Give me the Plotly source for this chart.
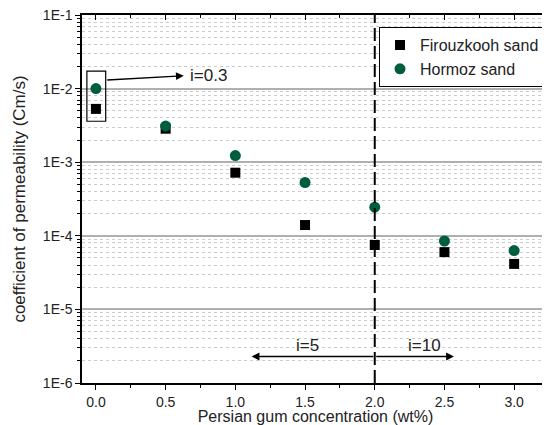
import plotly.graph_objects as go

# ---- data ----
conc = [0.0, 0.5, 1.0, 1.5, 2.0, 2.5, 3.0]
firouzkooh = [5.3e-3, 2.85e-3, 7.2e-4, 1.4e-4, 7.5e-5, 6.0e-5, 4.15e-5]
hormoz = [1.0e-2, 3.1e-3, 1.23e-3, 5.3e-4, 2.45e-4, 8.5e-5, 6.3e-5]

x_ticks = [0.0, 0.5, 1.0, 1.5, 2.0, 2.5, 3.0]
x_tick_labels = ["0.0", "0.5", "1.0", "1.5", "2.0", "2.5", "3.0"]
y_ticks = [1e-6, 1e-5, 1e-4, 1e-3, 1e-2, 1e-1]
y_tick_labels = ["1E-6", "1E-5", "1E-4", "1E-3", "1E-2", "1E-1"]
y_minor = [m * d for d in [1e-6, 1e-5, 1e-4, 1e-3, 1e-2] for m in range(2, 10)]

x_range = [-0.1, 3.25]
y_range_log = [-6, -1]

FONT = "Liberation Sans, Arial, sans-serif"
GREEN = "#005E3E"

fig = go.Figure()
fig.add_trace(go.Scatter(
    x=conc, y=firouzkooh, mode="markers", name="Firouzkooh sand",
    marker=dict(symbol="square", size=10, color="black"),
))
fig.add_trace(go.Scatter(
    x=conc, y=hormoz, mode="markers", name="Hormoz sand",
    marker=dict(symbol="circle", size=11, color=GREEN),
))
# empty trace to activate the mirrored (top/right) axes
fig.add_trace(go.Scatter(x=[], y=[], xaxis="x2", yaxis="y2", showlegend=False,
                         hoverinfo="skip"))

# the page body has an 8px margin, so the figure is 8px smaller than the window
fig.update_layout(
    width=542, height=417,
    margin=dict(l=74, r=1, t=7, b=42, autoexpand=False),
    paper_bgcolor="white", plot_bgcolor="white",
    font=dict(family=FONT, size=14, color="#222"),
    showlegend=True,
    legend=dict(
        x=0.636, y=0.967, xanchor="left", yanchor="top",
        bordercolor="black", borderwidth=1, bgcolor="white",
        font=dict(size=16, color="#222"),
        tracegroupgap=0,
    ),
    xaxis=dict(
        range=x_range, tickmode="array", tickvals=x_ticks, ticktext=x_tick_labels,
        ticks="outside", ticklen=5, tickwidth=1.2, tickcolor="black",
        showline=True, linecolor="black", linewidth=1.5,
        showgrid=False, zeroline=False, ticklabeloverflow="allow",
        minor=dict(dtick=0.25, tick0=0, ticks="outside", ticklen=3,
                   tickcolor="black", showgrid=False),
        title=dict(text="Persian gum concentration (wt%)", font=dict(size=16),
                   standoff=0),
    ),
    yaxis=dict(
        type="log", range=y_range_log, tickmode="array", tickvals=y_ticks,
        ticktext=y_tick_labels, ticklabeloverflow="allow",
        ticks="outside", ticklen=5, tickwidth=1.2, tickcolor="black",
        showline=True, linecolor="black", linewidth=1.5,
        showgrid=True, gridcolor="#b0b0b0", gridwidth=1.5, zeroline=False,
        minor=dict(tickmode="array", tickvals=y_minor, ticks="outside", ticklen=3,
                   tickcolor="black", showgrid=True, gridcolor="#cccccc",
                   griddash="dot", gridwidth=1),
        title=dict(text="coefficient of permeability (Cm/s)", font=dict(size=17),
                   standoff=13),
    ),
    xaxis2=dict(
        overlaying="x", side="top", range=x_range, tickmode="array",
        tickvals=x_ticks, showticklabels=False,
        ticks="inside", ticklen=5, tickwidth=1.2, tickcolor="black",
        showline=True, linecolor="black", linewidth=1.5,
        showgrid=False, zeroline=False,
        minor=dict(dtick=0.25, tick0=0, ticks="inside", ticklen=3,
                   tickcolor="black", showgrid=False),
    ),
    yaxis2=dict(
        overlaying="y", side="right", type="log", range=y_range_log,
        tickmode="array", tickvals=y_ticks, showticklabels=False,
        ticks="inside", ticklen=5, tickwidth=1.2, tickcolor="black",
        showline=True, linecolor="black", linewidth=1.5,
        showgrid=False, zeroline=False,
        minor=dict(tickmode="array", tickvals=y_minor, ticks="inside", ticklen=3,
                   tickcolor="black", showgrid=False),
    ),
)

# vertical dashed line at 2.0 wt%
fig.add_shape(type="line", xref="x", yref="paper", x0=2.0, x1=2.0, y0=0, y1=1,
              line=dict(color="black", width=2, dash="13px,5px"))
# box around the i=0.3 points
fig.add_shape(type="rect", xref="x", yref="y", x0=-0.065, x1=0.07,
              y0=3.6e-3, y1=1.73e-2, line=dict(color="black", width=1.2),
              fillcolor="rgba(0,0,0,0)")

# arrow from box to label i=0.3 (annotation coords on log axis are log10)
fig.add_annotation(x=0.63, y=-1.826, ax=0.07, ay=-1.884, xref="x", yref="y",
                   axref="x", ayref="y", text="", showarrow=True,
                   arrowhead=2, arrowsize=1.2, arrowwidth=1.3, arrowcolor="black")
fig.add_annotation(x=0.66, y=-1.823, xref="x", yref="y", text="i=0.3",
                   showarrow=False, xanchor="left", font=dict(size=17, color="#222"))

# bottom arrows
fig.add_annotation(x=1.117, y=-5.64, ax=2.0, ay=-5.64, xref="x", yref="y",
                   axref="x", ayref="y", text="", showarrow=True,
                   arrowhead=2, arrowsize=1.2, arrowwidth=1.3, arrowcolor="black")
fig.add_annotation(x=2.568, y=-5.64, ax=2.0, ay=-5.64, xref="x", yref="y",
                   axref="x", ayref="y", text="", showarrow=True,
                   arrowhead=2, arrowsize=1.2, arrowwidth=1.3, arrowcolor="black")
fig.add_annotation(x=1.52, y=-5.49, xref="x", yref="y", text="i=5",
                   showarrow=False, font=dict(size=17, color="#222"))
fig.add_annotation(x=2.36, y=-5.49, xref="x", yref="y", text="i=10",
                   showarrow=False, font=dict(size=17, color="#222"))

fig.write_html("out.html")
